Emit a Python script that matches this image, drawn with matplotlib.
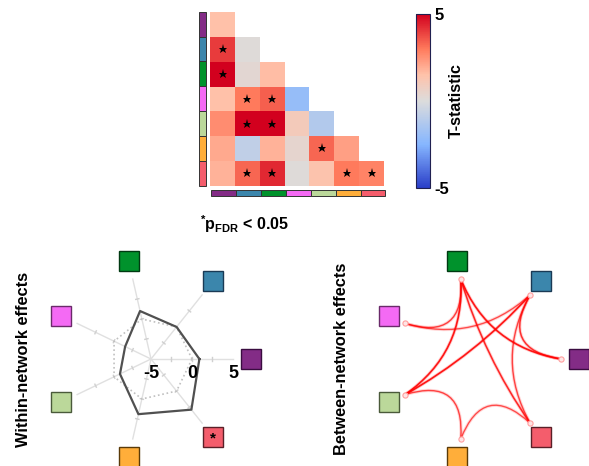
import numpy as np
import matplotlib.pyplot as plt
from matplotlib.colors import LinearSegmentedColormap
from matplotlib.patches import Rectangle, PathPatch
from matplotlib.path import Path

plt.rcParams['font.family'] = ['Liberation Sans', 'DejaVu Sans']
plt.rcParams['mathtext.fontset'] = 'custom'
plt.rcParams['mathtext.rm'] = 'Liberation Sans'
plt.rcParams['mathtext.bf'] = 'Liberation Sans:bold'

# 7 networks, order: purple, blue, green, magenta, light green, orange, red
net_colors = ['#832C86', '#3B86AC', '#00922C', '#F46AF4', '#BBD89A', '#FFAE3A', '#F45D6C']
net_edges = ['#3A0C40', '#1A3A55', '#003A12', '#6A2A6A', '#4A5A3A', '#5A3A08', '#5A2028']

# T-statistics, lower triangle (row i, columns 0..i)
tstat_rows = [
    [1.5],
    [4.0, 0.1],
    [5.0, 0.3, 1.6],
    [1.5, 3.0, 3.4, -2.0],
    [2.6, 5.0, 5.0, 1.0, -1.2],
    [2.0, -0.8, 1.8, 0.4, 3.3, 2.2],
    [1.8, 3.3, 4.3, 0.1, 1.4, 3.0, 2.8],
]
# significant cells (row, col), pFDR < 0.05
sig_cells = [(1, 0), (2, 0), (3, 1), (3, 2), (4, 1), (4, 2),
             (5, 4), (6, 1), (6, 2), (6, 5), (6, 6)]

# within-network effects (radar)
within_t = [0.9, 0.0, 1.0, -1.5, -0.8, 1.9, 2.9]
within_sig = [False, False, False, False, False, False, True]

n = len(net_colors)
tmat = np.full((n, n), np.nan)
for i, row in enumerate(tstat_rows):
    tmat[i, :len(row)] = row

fig = plt.figure(figsize=(5.89, 4.66), dpi=100)
W, H = 589, 466


def px_axes(x0, y0, x1, y1):
    # pixel box (top-left origin) -> figure axes
    return fig.add_axes([x0 / W, 1 - y1 / H, (x1 - x0) / W, (y1 - y0) / H])


cmap = LinearSegmentedColormap.from_list(
    't', [(0.0, '#2A3EC8'), (0.25, '#86B6FF'), (0.5, '#DCDCDC'),
          (0.65, '#FFC2AA'), (0.8, '#FF7A5C'), (1.0, '#D2001E')])

# ---- heatmap ----
ax = px_axes(209.3, 11.7, 385, 185.7)
im = ax.imshow(np.ma.masked_invalid(tmat), cmap=cmap, vmin=-5, vmax=5,
               interpolation='nearest')
for r, c in sig_cells:
    ax.plot(c, r, marker='*', color='k', ms=6.5, mew=0)
for i, col in enumerate(net_colors):
    ax.add_patch(Rectangle((-0.95, i - 0.5), 0.28, 1, fc=col, ec='#333333',
                           lw=0.7, clip_on=False))
    ax.add_patch(Rectangle((i - 0.45, 6.67), 1, 0.24, fc=col, ec='#333333',
                           lw=0.7, clip_on=False))
ax.set_xlim(-0.5, 6.5)
ax.set_ylim(6.5, -0.5)
ax.axis('off')

cax = px_axes(416, 14, 430, 188)
cb = fig.colorbar(im, cax=cax)
cb.set_ticks([-5, 5])
cb.set_ticklabels(['-5', '5'], fontweight='bold', fontsize=12)
cax.tick_params(length=0, pad=3)
cb.outline.set_edgecolor('#202050')
cb.outline.set_linewidth(0.8)
cb.set_label('T-statistic', fontweight='bold', fontsize=11.5, labelpad=0)

fig.text(245 / W, 1 - 224 / H, r'$\mathbf{{}^{*}p_{FDR}}\;$< 0.05',
         ha='center', va='center', fontsize=11.5, fontweight='bold')

# ---- shared geometry for the two polar panels ----
scale = 8.2  # px per radial unit
theta = np.arange(n) * 2 * np.pi / n
sq_r = 12.2
sq_half = 1.22


def panel(cx, cy, left, right):
    a = px_axes(cx - left, 240, cx + right, 466)
    a.set_xlim(-left / scale, right / scale)
    a.set_ylim(-(466 - cy) / scale, (cy - 240) / scale)
    a.axis('off')
    for k in range(n):
        x, y = sq_r * np.cos(theta[k]), sq_r * np.sin(theta[k])
        a.add_patch(Rectangle((x - sq_half, y - sq_half), 2 * sq_half, 2 * sq_half,
                              fc=net_colors[k], ec=net_edges[k], lw=1.0,
                              clip_on=False, zorder=3))
    return a


# ---- radar: within-network ----
axr = panel(151, 359, 130, 139)
for k in range(n):
    c, s = np.cos(theta[k]), np.sin(theta[k])
    axr.plot([0, 10 * c], [0, 10 * s], color='#E0E0E0', lw=1, zorder=1)
    for tv in [-2.5, 0, 2.5]:
        r = tv + 5
        axr.plot([r * c - 0.2 * s, r * c + 0.2 * s],
                 [r * s + 0.2 * c, r * s - 0.2 * c], color='#D0D0D0', lw=1, zorder=1)
    if within_sig[k]:
        axr.text(sq_r * c, sq_r * s - 0.2, '*', ha='center', va='center',
                 fontsize=11, fontweight='bold', zorder=4)
zr = np.full(n + 1, 5.0)
ang = np.append(theta, theta[0])
axr.plot(zr * np.cos(ang), zr * np.sin(ang), color='#C0C0C0', lw=1.2, ls=':', zorder=2)
vr = np.append(np.array(within_t) + 5, within_t[0] + 5)
axr.plot(vr * np.cos(ang), vr * np.sin(ang), color='#505050', lw=1.6, zorder=2)
for tv in [-5, 0, 5]:
    axr.text(tv + 5, -1.75, str(tv), ha='center', va='center', fontsize=13,
             fontweight='bold')
fig.text(24 / W, 1 - 359 / H, 'Within-network effects', rotation=90,
         ha='center', va='center', fontsize=11.8, fontweight='bold')

# ---- network: between-network ----
axn = panel(479, 359, 130, 110)
for r_, c_ in sig_cells:
    if r_ == c_:
        continue
    p0 = 10 * np.array([np.cos(theta[r_]), np.sin(theta[r_])])
    p2 = 10 * np.array([np.cos(theta[c_]), np.sin(theta[c_])])
    p1 = 0.3 * (p0 + p2) / 2
    path = Path([p0, p1, p2], [Path.MOVETO, Path.CURVE3, Path.CURVE3])
    strength = tmat[r_, c_] / 5
    axn.add_patch(PathPatch(path, fc='none', ec='red', lw=2.4,
                            alpha=0.08 + 0.12 * strength, zorder=1))
    axn.add_patch(PathPatch(path, fc='none', ec='red', lw=0.6 + 0.6 * strength,
                            alpha=0.3 + 0.6 * strength, zorder=2))
axn.scatter(10 * np.cos(theta), 10 * np.sin(theta), s=14, fc='#FFE4E4',
            ec='#FFA0A0', lw=0.8, zorder=3)
fig.text(341 / W, 1 - 359 / H, 'Between-network effects', rotation=90,
         ha='center', va='center', fontsize=11.8, fontweight='bold')

fig.savefig('out.png', dpi=100)
